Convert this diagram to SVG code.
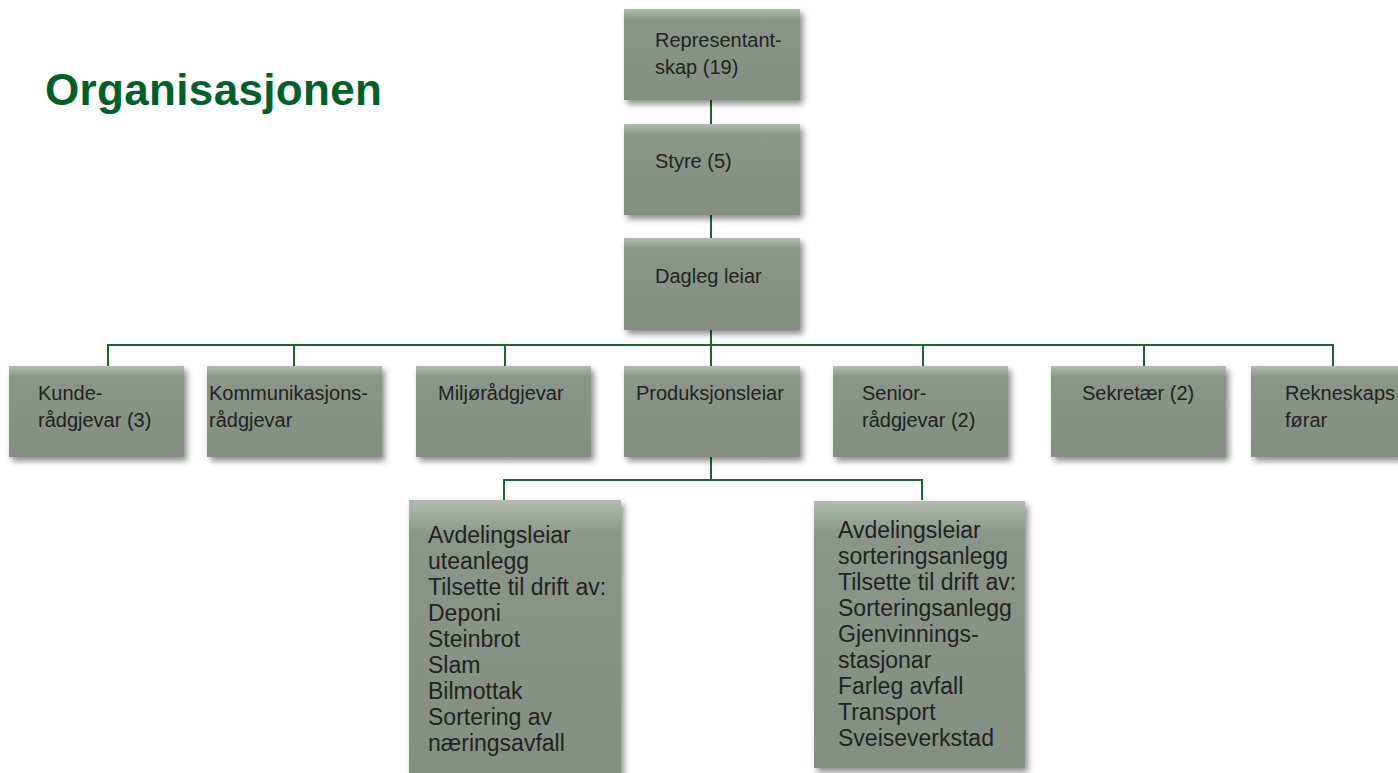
<svg xmlns="http://www.w3.org/2000/svg" width="1398" height="773" viewBox="0 0 1398 773">
<style>
.box{fill:url(#g);filter:url(#sh)}
.t{font-family:"Liberation Sans",Arial,sans-serif;font-size:20px;fill:#222}
.tb{font-family:"Liberation Sans",Arial,sans-serif;font-size:23px;fill:#222}
.c{stroke:#17692f;stroke-width:2;fill:none}
</style>
<defs>
<linearGradient id="g" x1="0" y1="0" x2="0" y2="1">
<stop offset="0" stop-color="#b3bcb1"/>
<stop offset="0.12" stop-color="#8c958a"/>
<stop offset="1" stop-color="#858e83"/>
</linearGradient>
<filter id="sh" x="-10%" y="-10%" width="125%" height="125%">
<feDropShadow dx="3" dy="4" stdDeviation="3" flood-color="#000" flood-opacity="0.45"/>
</filter>
</defs>
<rect width="1398" height="773" fill="#fff"/>
<text x="45" y="105" font-family="'Liberation Sans',Arial,sans-serif" font-weight="bold" font-size="44" fill="#006028" textLength="337">Organisasjonen</text>
<g id="connectors">
<path class="c" d="M711 100V124M711 215V238M711 330V366M108 366V345H1333V366M294 345V366M505 345V366M923 345V366M1144 345V366M711 457V480M504 500V480H922V500"/>
</g>
<g id="n1"><rect class="box" x="624" y="9" width="176" height="91"/><text class="t" x="655" y="47">Representant-</text><text class="t" x="655" y="74">skap (19)</text></g>
<g id="n2"><rect class="box" x="624" y="124" width="176" height="91"/><text class="t" x="655" y="168">Styre (5)</text></g>
<g id="n3"><rect class="box" x="624" y="238" width="176" height="92"/><text class="t" x="655" y="283">Dagleg leiar</text></g>
<g id="n4"><rect class="box" x="9" y="366" width="175" height="91"/><text class="t" x="38" y="400">Kunde-</text><text class="t" x="38" y="427">rådgjevar (3)</text></g>
<g id="n5"><rect class="box" x="207" y="366" width="175" height="91"/><text class="t" x="209" y="400">Kommunikasjons-</text><text class="t" x="209" y="427">rådgjevar</text></g>
<g id="n6"><rect class="box" x="416" y="366" width="175" height="91"/><text class="t" x="438" y="400">Miljørådgjevar</text></g>
<g id="n7"><rect class="box" x="624" y="366" width="176" height="91"/><text class="t" x="636" y="400">Produksjonsleiar</text></g>
<g id="n8"><rect class="box" x="833" y="366" width="175" height="91"/><text class="t" x="862" y="400">Senior-</text><text class="t" x="862" y="427">rådgjevar (2)</text></g>
<g id="n9"><rect class="box" x="1051" y="366" width="175" height="91"/><text class="t" x="1082" y="400">Sekretær (2)</text></g>
<g id="n10"><rect class="box" x="1251" y="366" width="160" height="91"/><text class="t" x="1285" y="400">Rekneskaps</text><text class="t" x="1285" y="427">førar</text></g>
<g id="n11"><rect class="box" x="409" y="500" width="212" height="290"/>
<text class="tb" x="428" y="543">Avdelingsleiar</text>
<text class="tb" x="428" y="569">uteanlegg</text>
<text class="tb" x="428" y="595">Tilsette til drift av:</text>
<text class="tb" x="428" y="621">Deponi</text>
<text class="tb" x="428" y="647">Steinbrot</text>
<text class="tb" x="428" y="673">Slam</text>
<text class="tb" x="428" y="699">Bilmottak</text>
<text class="tb" x="428" y="725">Sortering av</text>
<text class="tb" x="428" y="751">næringsavfall</text></g>
<g id="n12"><rect class="box" x="814" y="501" width="211" height="267"/>
<text class="tb" x="838" y="538">Avdelingsleiar</text>
<text class="tb" x="838" y="564">sorteringsanlegg</text>
<text class="tb" x="838" y="590">Tilsette til drift av:</text>
<text class="tb" x="838" y="616">Sorteringsanlegg</text>
<text class="tb" x="838" y="642">Gjenvinnings-</text>
<text class="tb" x="838" y="668">stasjonar</text>
<text class="tb" x="838" y="694">Farleg avfall</text>
<text class="tb" x="838" y="720">Transport</text>
<text class="tb" x="838" y="746">Sveiseverkstad</text></g>
</svg>
